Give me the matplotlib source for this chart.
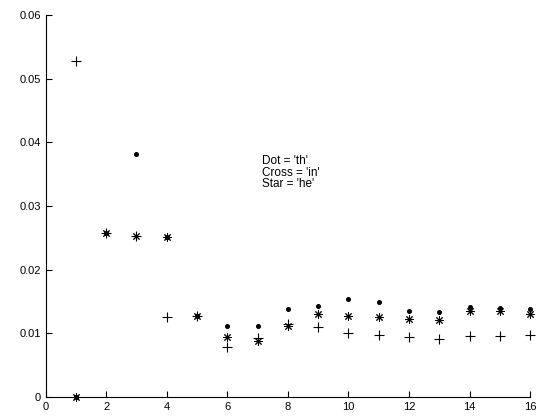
import numpy as np
import matplotlib
matplotlib.use("Agg")
import matplotlib.pyplot as plt

plt.rcParams['font.family'] = ['Liberation Sans', 'DejaVu Sans']

# Data
x = np.arange(1, 17)
dot_th = [0.0, 0.0258, 0.0382, 0.0251, 0.0127, 0.0111, 0.0111, 0.0138,
          0.0143, 0.0154, 0.0149, 0.0135, 0.0134, 0.0141, 0.0140, 0.0138]
cross_in = [0.0528, 0.0258, 0.0253, 0.0126, 0.0127, 0.0079, 0.0093, 0.0114,
            0.0110, 0.0100, 0.0097, 0.0094, 0.0091, 0.0096, 0.0096, 0.0097]
star_he = [0.0, 0.0258, 0.0253, 0.0251, 0.0127, 0.0094, 0.0088, 0.0111,
           0.0130, 0.0127, 0.0126, 0.0122, 0.0121, 0.0135, 0.0135, 0.0130]

fig = plt.figure(figsize=(5.36, 4.17), dpi=100)
ax = fig.add_axes([0.085, 0.048, 0.904, 0.916])

ax.plot(x, dot_th, linestyle='none', marker='o', markersize=2.6, color='black')
ax.plot(x, cross_in, linestyle='none', marker='+', markersize=7.5,
        markeredgewidth=0.8, color='black')
ax.plot(x, star_he, linestyle='none', marker=(8, 2, 0), markersize=6,
        markeredgewidth=0.7, color='black')

ax.text(7.15, 0.0352, "Dot = 'th'\nCross = 'in'\nStar = 'he'",
        fontsize=8.5, va='center', ha='left', linespacing=0.95)

ax.set_xlim(0, 16)
ax.set_ylim(0, 0.06)
ax.set_xticks(np.arange(0, 17, 2))
ax.set_yticks([0, 0.01, 0.02, 0.03, 0.04, 0.05, 0.06])
ax.set_yticklabels(['0', '0.01', '0.02', '0.03', '0.04', '0.05', '0.06'])
ax.tick_params(direction='in', length=4, labelsize=8, width=0.8)
ax.spines['top'].set_visible(False)
ax.spines['right'].set_visible(False)
for line in ax.lines:
    line.set_clip_on(False)

fig.savefig("out.png", dpi=100)
